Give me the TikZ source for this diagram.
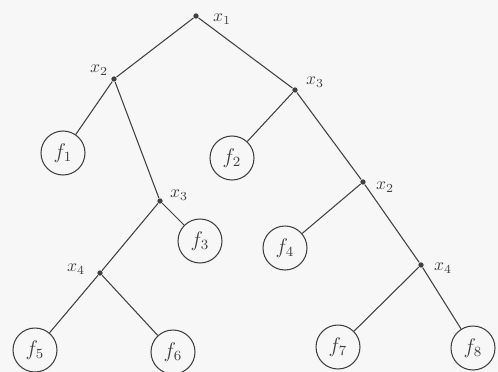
\documentclass[tikz,border=0pt]{standalone}
\begin{document}
\begin{tikzpicture}[x=0.02cm,y=-0.02cm,black!75,line width=0.6pt,
  leaf/.style={draw,circle,minimum size=0.88cm,inner sep=0pt,font=\large},
  dec/.style={circle,fill,inner sep=0pt,minimum size=3pt}]
\useasboundingbox[fill=black!3] (0,0) rectangle (498,372);
% decision points
\node[dec] (a) at (196,16) {};\node (la) at (222,19) {$x_1$};
\node[dec] (b) at (114,79) {};\node (lb) at (99,70) {$x_2$};
\node[dec] (c) at (295,90) {};\node (lc) at (315,82) {$x_3$};
\node[dec] (d) at (160,201) {};\node (ld) at (179,195) {$x_3$};
\node[dec] (e) at (363,182) {};\node (le) at (385,187) {$x_2$};
\node[dec] (g) at (100,273) {};\node (lg) at (76,269) {$x_4$};
\node[dec] (h) at (421,265) {};\node (lh) at (443,268) {$x_4$};
% leaves
\node[leaf] (f1) at (63,153) {$f_1$};\node[leaf] (f2) at (232,158) {$f_2$};
\node[leaf] (f3) at (200,241) {$f_3$};\node[leaf] (f4) at (285,248) {$f_4$};
\node[leaf] (f5) at (35,350) {$f_5$};\node[leaf] (f6) at (173,352) {$f_6$};
\node[leaf] (f7) at (338,347) {$f_7$};\node[leaf] (f8) at (473,348) {$f_8$};
% branches
\draw (a)--(b) (a)--(c) (b)--(f1) (b)--(d) (c)--(f2) (c)--(e);
\draw (d)--(g) (d)--(f3) (e)--(f4) (e)--(h);
\draw (g)--(f5) (g)--(f6) (h)--(f7) (h)--(f8);
\end{tikzpicture}
\end{document}
